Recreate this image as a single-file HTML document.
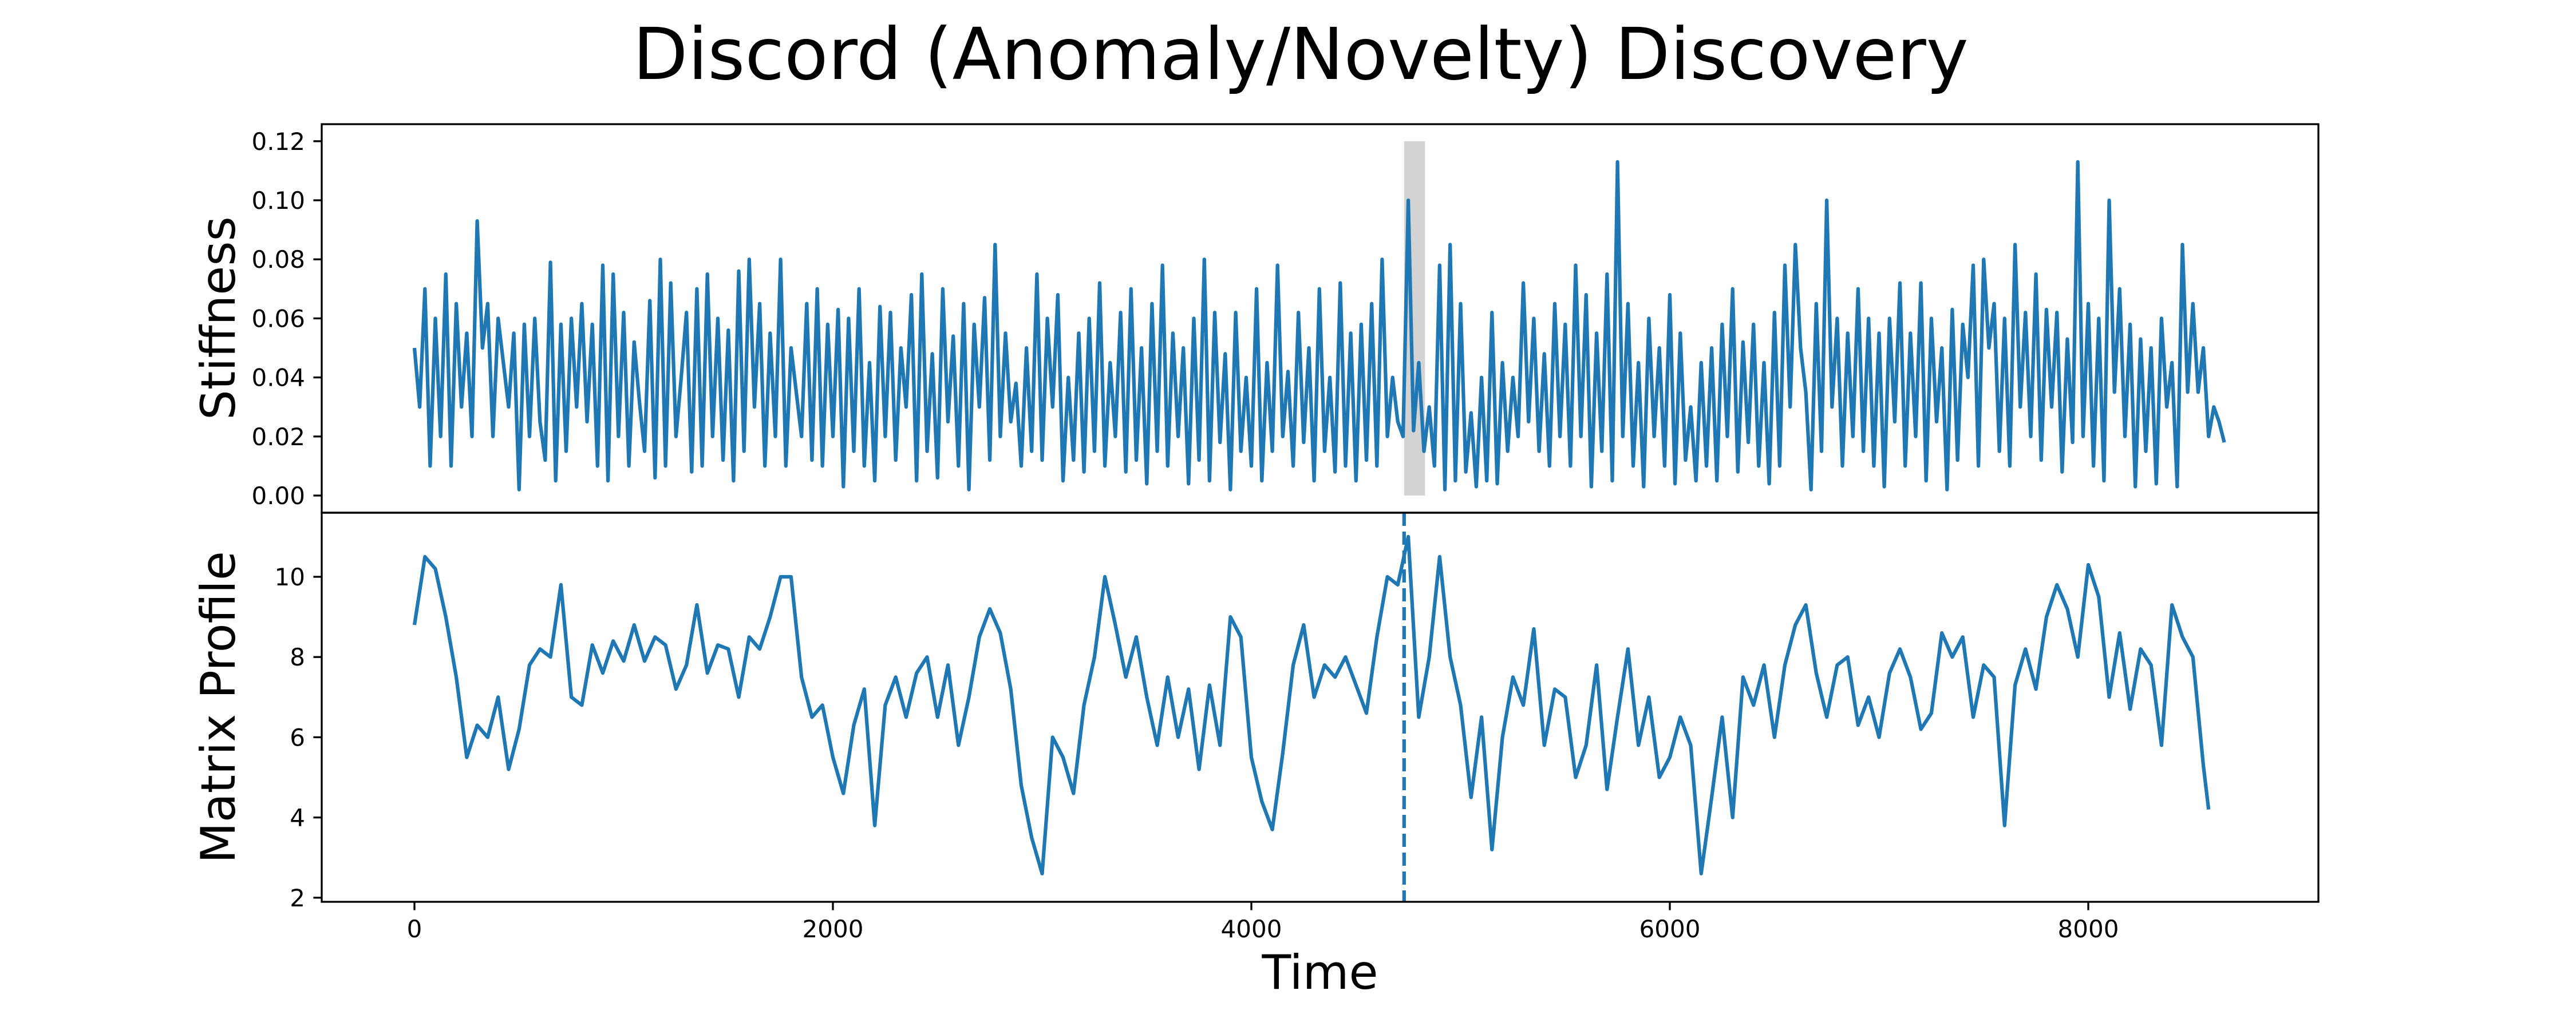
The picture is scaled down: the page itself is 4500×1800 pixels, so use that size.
<!DOCTYPE html>
<html><head><meta charset="utf-8"><style>
html,body{margin:0;padding:0;background:#fff;}
svg{display:block;font-family:"DejaVu Sans","Liberation Sans",sans-serif;}
</style></head><body>
<svg id="chart" width="4500" height="1800" viewBox="0 0 4500 1800" xmlns="http://www.w3.org/2000/svg">
<rect width="4500" height="1800" fill="#fff"/>
<text x="2272" y="138" font-size="125" text-anchor="middle">Discord (Anomaly/Novelty) Discovery</text>
<g id="gtop"></g><g id="gbot"></g>
<text transform="translate(410,556) rotate(-90)" font-size="83" text-anchor="middle">Stiffness</text>
<text transform="translate(410,1236) rotate(-90)" font-size="83" text-anchor="middle">Matrix Profile</text>
<text x="2306" y="1728" font-size="83" text-anchor="middle">Time</text>
</svg>
<script>
const stiffness = [
0.05,0.03,0.07,0.01,0.06,0.02,0.075,0.01,0.065,0.03,0.055,0.02,0.093,0.05,0.065,0.02,0.06,0.045,0.03,0.055,
0.002,0.058,0.02,0.06,0.025,0.012,0.079,0.005,0.058,0.015,0.06,0.03,0.065,0.025,0.058,0.01,0.078,0.005,0.075,0.02,
0.062,0.01,0.052,0.032,0.015,0.066,0.006,0.08,0.01,0.072,0.02,0.04,0.062,0.008,0.07,0.01,0.075,0.02,0.06,0.012,
0.056,0.005,0.076,0.015,0.08,0.03,0.065,0.01,0.055,0.02,0.08,0.01,0.05,0.035,0.02,0.065,0.012,0.07,0.01,0.058,
0.02,0.063,0.003,0.06,0.015,0.07,0.01,0.045,0.005,0.064,0.02,0.062,0.012,0.05,0.03,0.068,0.005,0.075,0.015,0.048,
0.006,0.07,0.025,0.054,0.01,0.065,0.002,0.058,0.03,0.067,0.012,0.085,0.02,0.055,0.025,0.038,0.01,0.05,0.015,0.075,
0.012,0.06,0.03,0.068,0.005,0.04,0.012,0.055,0.008,0.06,0.015,0.072,0.01,0.045,0.02,0.062,0.008,0.07,0.012,0.05,
0.004,0.065,0.015,0.078,0.01,0.055,0.02,0.05,0.004,0.06,0.012,0.08,0.005,0.062,0.018,0.048,0.002,0.062,0.015,0.04,
0.01,0.07,0.005,0.045,0.015,0.078,0.02,0.042,0.01,0.062,0.018,0.05,0.005,0.07,0.015,0.04,0.008,0.072,0.01,0.055,
0.005,0.058,0.012,0.065,0.01,0.08,0.02,0.04,0.025,0.02,0.1,0.022,0.045,0.015,0.03,0.01,0.078,0.002,0.085,0.005,
0.065,0.008,0.028,0.003,0.04,0.005,0.062,0.004,0.045,0.015,0.04,0.02,0.072,0.025,0.06,0.015,0.048,0.01,0.065,0.02,
0.058,0.01,0.078,0.02,0.068,0.003,0.055,0.015,0.075,0.005,0.113,0.02,0.065,0.01,0.045,0.003,0.06,0.02,0.05,0.01,
0.068,0.004,0.055,0.012,0.03,0.005,0.045,0.01,0.05,0.005,0.058,0.02,0.07,0.008,0.052,0.018,0.058,0.01,0.045,0.004,
0.062,0.01,0.078,0.03,0.085,0.05,0.035,0.002,0.065,0.015,0.1,0.03,0.06,0.01,0.055,0.02,0.07,0.015,0.06,0.01,
0.055,0.003,0.06,0.025,0.072,0.01,0.055,0.02,0.072,0.005,0.06,0.025,0.05,0.002,0.063,0.012,0.058,0.04,0.078,0.01,
0.08,0.05,0.065,0.015,0.06,0.01,0.085,0.03,0.062,0.02,0.075,0.012,0.063,0.03,0.062,0.008,0.053,0.018,0.113,0.02,
0.065,0.01,0.06,0.005,0.1,0.035,0.07,0.02,0.058,0.003,0.053,0.015,0.05,0.004,0.06,0.03,0.045,0.003,0.085,0.035,
0.065,0.035,0.05,0.02,0.03,0.025,0.018];
const stiffStep = 25;
const matrixProfile = [
8.8,10.5,10.2,9.0,7.5,5.5,6.3,6.0,7.0,5.2,6.2,7.8,8.2,8.0,9.8,7.0,6.8,8.3,7.6,8.4,
7.9,8.8,7.9,8.5,8.3,7.2,7.8,9.3,7.6,8.3,8.2,7.0,8.5,8.2,9.0,10.0,10.0,7.5,6.5,6.8,
5.5,4.6,6.3,7.2,3.8,6.8,7.5,6.5,7.6,8.0,6.5,7.8,5.8,7.0,8.5,9.2,8.6,7.2,4.8,3.5,
2.6,6.0,5.5,4.6,6.8,8.0,10.0,8.8,7.5,8.5,7.0,5.8,7.5,6.0,7.2,5.2,7.3,5.8,9.0,8.5,
5.5,4.4,3.7,5.6,7.8,8.8,7.0,7.8,7.5,8.0,7.3,6.6,8.5,10.0,9.8,11.0,6.5,8.0,10.5,8.0,
6.8,4.5,6.5,3.2,6.0,7.5,6.8,8.7,5.8,7.2,7.0,5.0,5.8,7.8,4.7,6.5,8.2,5.8,7.0,5.0,
5.5,6.5,5.8,2.6,4.5,6.5,4.0,7.5,6.8,7.8,6.0,7.8,8.8,9.3,7.6,6.5,7.8,8.0,6.3,7.0,
6.0,7.6,8.2,7.5,6.2,6.6,8.6,8.0,8.5,6.5,7.8,7.5,3.8,7.3,8.2,7.2,9.0,9.8,9.2,8.0,
10.3,9.5,7.0,8.6,6.7,8.2,7.8,5.8,9.3,8.5,8.0,5.3,4.2];
const mpStep = 50;
const xTicks = [0,2000,4000,6000,8000];
const stiffTicks = [0,0.02,0.04,0.06,0.08,0.10,0.12];
const mpTicks = [2,4,6,8,10];
const discordIdx = 4730;
const windowLen = 100;

const NS = "http://www.w3.org/2000/svg";
const L = 562, R = 4050, T1 = 217, M = 896, B2 = 1576;
const xs = t => 724 + t * (731 / 2000);
const ys = v => 866 - v * 5160;
const ym = v => 1008 - (v - 10) * 70.1;
function mk(tag, attrs, parent) {
  const e = document.createElementNS(NS, tag);
  for (const k in attrs) e.setAttribute(k, attrs[k]);
  parent.appendChild(e);
  return e;
}
const gTop = document.getElementById('gtop'), gBot = document.getElementById('gbot');
const defs = mk('defs', {}, document.getElementById('chart'));
const c1 = mk('clipPath', {id: 'c1'}, defs); mk('rect', {x: L, y: T1, width: R - L, height: M - T1}, c1);
const c2 = mk('clipPath', {id: 'c2'}, defs); mk('rect', {x: L, y: M, width: R - L, height: B2 - M}, c2);

const span = mk('rect', {x: xs(discordIdx), y: ys(0.12), width: xs(discordIdx + windowLen) - xs(discordIdx), height: ys(0) - ys(0.12), fill: '#d3d3d3'}, gTop);



let d = '';
stiffness.forEach((v, i) => { d += (i ? 'L' : 'M') + xs(i * stiffStep).toFixed(1) + ' ' + ys(v).toFixed(1); });
const sl = mk('path', {d: d, fill: 'none', stroke: '#1f77b4', 'stroke-width': 6.25, 'stroke-linejoin': 'round', 'clip-path': 'url(#c1)'}, gTop);



d = '';
matrixProfile.forEach((v, i) => { const t = Math.min(i * mpStep, 8575); d += (i ? 'L' : 'M') + xs(t).toFixed(1) + ' ' + ym(v).toFixed(1); });
const ml = mk('path', {d: d, fill: 'none', stroke: '#1f77b4', 'stroke-width': 6.25, 'stroke-linejoin': 'round', 'clip-path': 'url(#c2)'}, gBot);



const dl = mk('line', {x1: xs(discordIdx), x2: xs(discordIdx), y1: M, y2: B2, stroke: '#1f77b4', 'stroke-width': 6.25, 'stroke-dasharray': '23 10'}, gBot);



const f1 = mk('rect', {x: L, y: T1, width: R - L, height: M - T1, fill: 'none', stroke: '#000', 'stroke-width': 3.3}, gTop);


const f2 = mk('rect', {x: L, y: M, width: R - L, height: B2 - M, fill: 'none', stroke: '#000', 'stroke-width': 3.3}, gBot);



stiffTicks.forEach(v => {
  const tk = mk('line', {x1: L - 14.6, x2: L, y1: ys(v), y2: ys(v), stroke: '#000', 'stroke-width': 3.3}, gTop);
  
  
  const tx = mk('text', {x: L - 29, y: ys(v) + 15, 'font-size': 42, 'text-anchor': 'end'}, gTop);
  tx.textContent = v.toFixed(2);
  
  
});
mpTicks.forEach(v => {
  const tk = mk('line', {x1: L - 14.6, x2: L, y1: ym(v), y2: ym(v), stroke: '#000', 'stroke-width': 3.3}, gBot);
  
  
  const tx = mk('text', {x: L - 29, y: ym(v) + 15, 'font-size': 42, 'text-anchor': 'end'}, gBot);
  tx.textContent = String(v);
  
  
});
xTicks.forEach(v => {
  const tk = mk('line', {x1: xs(v), x2: xs(v), y1: B2, y2: B2 + 14.6, stroke: '#000', 'stroke-width': 3.3}, gBot);
  
  
  const tx = mk('text', {x: xs(v), y: B2 + 62, 'font-size': 42, 'text-anchor': 'middle'}, gBot);
  tx.textContent = String(v);
  
  
});
</script>
</body></html>
